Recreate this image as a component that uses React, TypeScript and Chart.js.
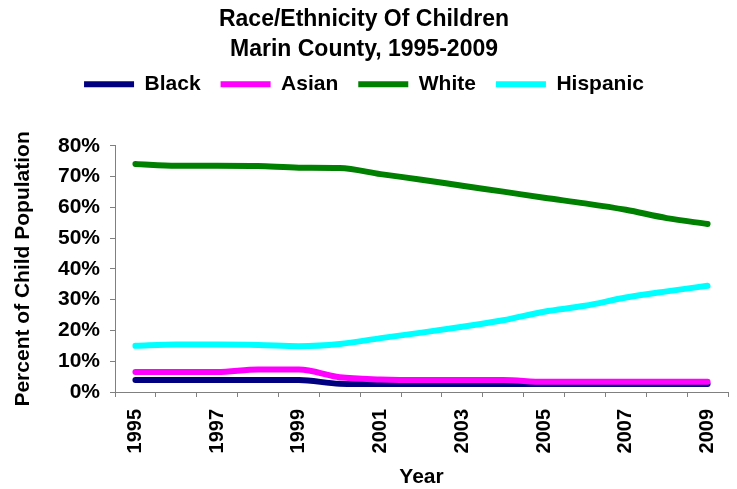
import React, { useEffect, useRef } from 'react';
import { Chart, registerables } from 'chart.js';

Chart.register(...registerables);

// Share of the child population by race/ethnicity, Marin County
const years = ['1995', '1996', '1997', '1998', '1999', '2000', '2001', '2002', '2003', '2004', '2005', '2006', '2007', '2008', '2009'];
const black = [3.9, 3.9, 3.9, 3.9, 3.9, 2.7, 2.6, 2.6, 2.6, 2.6, 2.6, 2.6, 2.6, 2.6, 2.6];
const asian = [6.5, 6.5, 6.5, 7.3, 7.3, 4.8, 4.1, 3.9, 3.9, 3.9, 3.3, 3.3, 3.3, 3.3, 3.3];
const white = [74.1, 73.5, 73.5, 73.4, 72.9, 72.8, 70.8, 69.0, 67.0, 65.1, 63.1, 61.3, 59.2, 56.5, 54.6];
const hispanic = [15.0, 15.4, 15.4, 15.3, 14.9, 15.6, 17.5, 19.3, 21.2, 23.3, 26.1, 28.0, 30.7, 32.7, 34.5];

const yMin = 0;
const yMax = 80;
const yStep = 10;

const FAMILY = '"Liberation Sans", Arial, Helvetica, sans-serif';
const AXIS_GRAY = '#808080';

// Fixed box sizes around the plot area
const LEGEND_HEIGHT = 92;
const Y_AXIS_WIDTH = 115;
const X_AXIS_HEIGHT = 97;

// The legend keeps its drawing position but reserves room down to the plot
const legendGap = {
  id: 'legendGap',
  afterInit(chart: any) {
    const legend = chart.legend;
    if (!legend) return;
    const fit = legend.fit;
    legend.fit = function () {
      fit.call(this);
      this.height = LEGEND_HEIGHT;
    };
  },
};

function series(label: string, data: number[], color: string, order: number) {
  return {
    label,
    data,
    borderColor: color,
    backgroundColor: color,
    borderWidth: 6,
    borderCapStyle: 'round' as const,
    borderJoinStyle: 'round' as const,
    pointRadius: 0,
    pointHoverRadius: 0,
    cubicInterpolationMode: 'monotone' as const,
    fill: false,
    order,
  };
}

export default function App() {
  const canvasRef = useRef<HTMLCanvasElement>(null);

  useEffect(() => {
    if (!canvasRef.current) return;
    const chart = new Chart(canvasRef.current, {
      type: 'line',
      data: {
        labels: years,
        datasets: [
          series('Black', black, '#000080', 4),
          series('Asian', asian, '#FF00FF', 3),
          series('White', white, '#008000', 2),
          series('Hispanic', hispanic, '#00FFFF', 1),
        ],
      },
      options: {
        animation: false,
        responsive: false,
        maintainAspectRatio: false,
        events: [],
        layout: { padding: { left: 0, right: 9, top: 0, bottom: 0 } },
        plugins: {
          tooltip: { enabled: false },
          title: {
            display: true,
            text: ['Race/Ethnicity Of Children', 'Marin County, 1995-2009'],
            color: '#000',
            font: { family: FAMILY, size: 23, weight: 'bold', lineHeight: 1.3 },
            padding: { top: 5, bottom: -11 },
          },
          legend: {
            display: true,
            position: 'top',
            labels: {
              usePointStyle: true,
              pointStyle: 'line',
              pointStyleWidth: 50,
              padding: 20,
              color: '#000',
              font: { family: FAMILY, size: 21, weight: 'bold' },
              sort: (a: any, b: any) => a.datasetIndex - b.datasetIndex,
            },
          },
        },
        scales: {
          x: {
            type: 'category',
            offset: true,
            afterFit: (scale: any) => {
              scale.height = X_AXIS_HEIGHT;
              scale.paddingLeft = 0;
              scale.paddingRight = 0;
            },
            grid: {
              offset: true,
              drawOnChartArea: false,
              drawTicks: true,
              tickLength: 5,
              color: AXIS_GRAY,
            },
            border: { display: true, color: AXIS_GRAY, width: 1 },
            ticks: {
              autoSkip: false,
              minRotation: 90,
              maxRotation: 90,
              padding: 12,
              color: '#000',
              font: { family: FAMILY, size: 20, weight: 'bold' },
              callback: function (this: any, value: any, index: number) {
                return index % 2 === 0 ? this.getLabelForValue(value) : '';
              },
            },
            title: {
              display: true,
              text: 'Year',
              color: '#000',
              font: { family: FAMILY, size: 21, weight: 'bold' },
              padding: { top: 0, bottom: -1 },
            },
          },
          y: {
            min: yMin,
            max: yMax,
            afterFit: (scale: any) => {
              scale.width = Y_AXIS_WIDTH;
            },
            grid: {
              drawOnChartArea: false,
              drawTicks: true,
              tickLength: 5,
              color: AXIS_GRAY,
            },
            border: { display: true, color: AXIS_GRAY, width: 1 },
            ticks: {
              stepSize: yStep,
              padding: 10,
              color: '#000',
              font: { family: FAMILY, size: 21, weight: 'bold' },
              callback: (v: any) => `${v}%`,
            },
            title: {
              display: true,
              text: 'Percent of Child Population',
              color: '#000',
              font: { family: FAMILY, size: 21, weight: 'bold' },
              padding: { top: 11, bottom: 4 },
            },
          },
        },
      },
      plugins: [legendGap],
    } as any);
    return () => chart.destroy();
  }, []);

  return (
    <div style={{ position: 'fixed', left: 0, top: 0, width: 737, height: 489, background: '#fff' }}>
      <canvas ref={canvasRef} width={737} height={489} style={{ display: 'block', width: 737, height: 489 }} />
    </div>
  );
}
